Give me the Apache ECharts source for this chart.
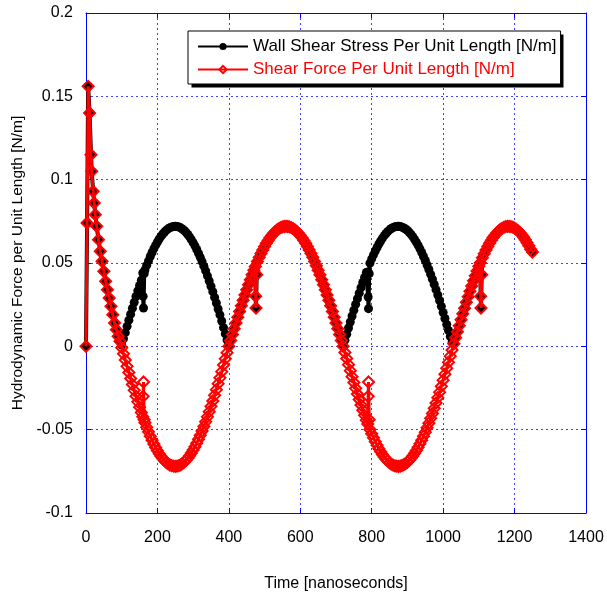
<!DOCTYPE html>
<html>
<head>
<meta charset="utf-8">
<script src="https://cdn.jsdelivr.net/npm/echarts@6/dist/echarts.min.js"></script>
<style>
html,body{margin:0;padding:0;background:#ffffff;}
#chart{width:607px;height:598px;}
</style>
</head>
<body>
<div id="chart"></div>
<script>
// ---- Data (time in ns, value in N/m) ----
const seriesNames = ['Wall Shear Stress Per Unit Length [N/m]', 'Shear Force Per Unit Length [N/m]'];
const xTicks = [0, 200, 400, 600, 800, 1000, 1200, 1400];
const yTicks = [-0.1, -0.05, 0, 0.05, 0.1, 0.15, 0.2];

const shearForce = [
  [0,0],[3,0.074],[6,0.156],[10,0.140],[14,0.115],[16,0.105],[20,0.093],[23,0.086],[26,0.079],
  [30,0.072],[35,0.064],[40,0.057],[45,0.051],[50,0.045],[55,0.039],[60,0.034],[65,0.029],[70,0.024],[75,0.019],[80,0.014],[85,0.010],[90,0.006],[95,0.003],
  [100,-0.0008],[105,-0.0045],[110,-0.0082],[115,-0.0120],[120,-0.0157],[125,-0.0193],[130,-0.0229],[135,-0.0264],[140,-0.0299],[145,-0.0333],[150,-0.0365],[155,-0.0397],
  [159,-0.0422],[160,-0.0300],[161,-0.0214],[163,-0.0440],
  [165,-0.0458],[170,-0.0486],[175,-0.0513],[180,-0.0539],[185,-0.0563],[190,-0.0586],[195,-0.0607],[200,-0.0626],[205,-0.0644],[210,-0.0660],[215,-0.0674],[220,-0.0686],[225,-0.0697],[230,-0.0705],[235,-0.0712],[240,-0.0716],[245,-0.0719],[250,-0.0720],[255,-0.0719],[260,-0.0716],[265,-0.0711],[270,-0.0704],[275,-0.0695],[280,-0.0684],[285,-0.0671],[290,-0.0657],[295,-0.0640],[300,-0.0622],[305,-0.0603],[310,-0.0581],[315,-0.0558],[320,-0.0534],[325,-0.0508],[330,-0.0481],[335,-0.0453],[340,-0.0423],[345,-0.0392],[350,-0.0360],[355,-0.0328],[360,-0.0294],[365,-0.0260],[370,-0.0224],[375,-0.0189],[380,-0.0152],[385,-0.0112],[390,-0.0075],[395,-0.0038],
  [400,0.0000],[405,0.0035],[410,0.0071],[415,0.0106],[420,0.0140],[425,0.0175],[430,0.0209],[435,0.0243],[440,0.0276],[445,0.0308],[450,0.0339],[455,0.0370],[460,0.0400],[465,0.0429],[470,0.0457],
  [474,0.0479],[475,0.0300],[476,0.0230],[478,0.0430],
  [480,0.0509],[485,0.0534],[490,0.0557],[495,0.0578],[500,0.0599],[505,0.0618],[510,0.0635],[515,0.0651],[520,0.0665],[525,0.0678],[530,0.0689],[535,0.0698],[540,0.0706],[545,0.0712],[550,0.0717],[555,0.0719],[560,0.0720],[565,0.0719],[570,0.0717],[575,0.0712],[580,0.0706],[585,0.0698],[590,0.0689],[595,0.0678],[600,0.0665],[605,0.0651],[610,0.0635],[615,0.0618],[620,0.0599],[625,0.0578],[630,0.0557],[635,0.0534],[640,0.0509],[645,0.0484],[650,0.0457],[655,0.0429],[660,0.0400],[665,0.0370],[670,0.0339],[675,0.0308],[680,0.0276],[685,0.0243],[690,0.0209],[695,0.0175],[700,0.0140],[705,0.0106],[710,0.0071],[715,0.0035],[720,0.0000],
  [725,-0.0037],[730,-0.0073],[735,-0.0110],[740,-0.0146],[745,-0.0182],[750,-0.0217],[755,-0.0252],[760,-0.0286],[765,-0.0319],[770,-0.0352],[775,-0.0383],[780,-0.0414],[785,-0.0443],
  [789,-0.0466],[790,-0.0300],[791,-0.0214],[793,-0.0440],
  [795,-0.0499],[800,-0.0525],[805,-0.0549],[810,-0.0572],[815,-0.0593],[820,-0.0614],[825,-0.0632],[830,-0.0649],[835,-0.0664],[840,-0.0677],[845,-0.0689],[850,-0.0699],[855,-0.0707],[860,-0.0713],[865,-0.0717],[870,-0.0719],[875,-0.0720],[880,-0.0719],[885,-0.0715],[890,-0.0710],[895,-0.0704],[900,-0.0695],[905,-0.0684],[910,-0.0672],[915,-0.0658],[920,-0.0642],[925,-0.0625],[930,-0.0606],[935,-0.0585],[940,-0.0563],[945,-0.0539],[950,-0.0515],[955,-0.0488],[960,-0.0461],[965,-0.0432],[970,-0.0403],[975,-0.0372],[980,-0.0340],[985,-0.0308],[990,-0.0275],[995,-0.0240],[1000,-0.0203],[1005,-0.0167],[1010,-0.0131],[1015,-0.0095],[1020,-0.0059],[1025,-0.0022],
  [1030,0.0015],[1035,0.0051],[1040,0.0087],[1045,0.0123],[1050,0.0159],[1055,0.0195],[1060,0.0229],[1065,0.0264],[1070,0.0297],[1075,0.0330],[1080,0.0362],[1085,0.0393],[1090,0.0423],[1095,0.0452],[1100,0.0480],
  [1104,0.0501],[1105,0.0300],[1106,0.0230],[1108,0.0430],
  [1110,0.0532],[1115,0.0556],[1120,0.0578],[1125,0.0599],[1130,0.0619],[1135,0.0636],[1140,0.0653],[1145,0.0667],[1150,0.0680],[1155,0.0691],[1160,0.0701],[1165,0.0708],[1170,0.0714],[1175,0.0718],[1180,0.0720],[1185,0.0720],[1190,0.0718],[1195,0.0715],[1200,0.0709],[1205,0.0702],[1210,0.0693],[1215,0.0682],[1220,0.0670],[1225,0.0656],[1230,0.0640],[1235,0.0622],[1240,0.0603],[1245,0.0582],[1250,0.0566]
];

const wallShearStress = [
  [0,0],[3,0.074],[6,0.156],[10,0.140],[14,0.115],[16,0.105],[20,0.093],[23,0.086],[26,0.079],
  [30,0.072],[35,0.064],[40,0.057],[45,0.051],[50,0.045],[55,0.039],[60,0.034],[65,0.029],[70,0.024],[75,0.019],[80,0.014],[85,0.010],[90,0.006],[95,0.003],
  [100,0.0008],[105,0.0045],[110,0.0082],[115,0.0120],[120,0.0157],[125,0.0193],[130,0.0229],[135,0.0264],[140,0.0299],[145,0.0333],[150,0.0365],[155,0.0397],
  [159,0.0440],[160,0.0300],[161,0.0230],[163,0.0436],
  [165,0.0458],[170,0.0486],[175,0.0513],[180,0.0539],[185,0.0563],[190,0.0586],[195,0.0607],[200,0.0626],[205,0.0644],[210,0.0660],[215,0.0674],[220,0.0686],[225,0.0697],[230,0.0705],[235,0.0712],[240,0.0716],[245,0.0719],[250,0.0720],[255,0.0719],[260,0.0716],[265,0.0711],[270,0.0704],[275,0.0695],[280,0.0684],[285,0.0671],[290,0.0657],[295,0.0640],[300,0.0622],[305,0.0603],[310,0.0581],[315,0.0558],[320,0.0534],[325,0.0508],[330,0.0481],[335,0.0453],[340,0.0423],[345,0.0392],[350,0.0360],[355,0.0328],[360,0.0294],[365,0.0260],[370,0.0224],[375,0.0189],[380,0.0152],[385,0.0112],[390,0.0075],[395,0.0038],
  [400,0.0000],[405,0.0035],[410,0.0071],[415,0.0106],[420,0.0140],[425,0.0175],[430,0.0209],[435,0.0243],[440,0.0276],[445,0.0308],[450,0.0339],[455,0.0370],[460,0.0400],[465,0.0429],[470,0.0457],
  [474,0.0479],[475,0.0300],[476,0.0230],[478,0.0430],
  [480,0.0509],[485,0.0534],[490,0.0557],[495,0.0578],[500,0.0599],[505,0.0618],[510,0.0635],[515,0.0651],[520,0.0665],[525,0.0678],[530,0.0689],[535,0.0698],[540,0.0706],[545,0.0712],[550,0.0717],[555,0.0719],[560,0.0720],[565,0.0719],[570,0.0717],[575,0.0712],[580,0.0706],[585,0.0698],[590,0.0689],[595,0.0678],[600,0.0665],[605,0.0651],[610,0.0635],[615,0.0618],[620,0.0599],[625,0.0578],[630,0.0557],[635,0.0534],[640,0.0509],[645,0.0484],[650,0.0457],[655,0.0429],[660,0.0400],[665,0.0370],[670,0.0339],[675,0.0308],[680,0.0276],[685,0.0243],[690,0.0209],[695,0.0175],[700,0.0140],[705,0.0106],[710,0.0071],[715,0.0035],[720,0.0000],
  [725,0.0037],[730,0.0073],[735,0.0110],[740,0.0146],[745,0.0182],[750,0.0217],[755,0.0252],[760,0.0286],[765,0.0319],[770,0.0352],[775,0.0383],[780,0.0414],[785,0.0443],
  [789,0.0446],[790,0.0296],[791,0.0226],[793,0.0436],
  [795,0.0499],[800,0.0525],[805,0.0549],[810,0.0572],[815,0.0593],[820,0.0614],[825,0.0632],[830,0.0649],[835,0.0664],[840,0.0677],[845,0.0689],[850,0.0699],[855,0.0707],[860,0.0713],[865,0.0717],[870,0.0719],[875,0.0720],[880,0.0719],[885,0.0715],[890,0.0710],[895,0.0704],[900,0.0695],[905,0.0684],[910,0.0672],[915,0.0658],[920,0.0642],[925,0.0625],[930,0.0606],[935,0.0585],[940,0.0563],[945,0.0539],[950,0.0515],[955,0.0488],[960,0.0461],[965,0.0432],[970,0.0403],[975,0.0372],[980,0.0340],[985,0.0308],[990,0.0275],[995,0.0240],[1000,0.0203],[1005,0.0167],[1010,0.0131],[1015,0.0095],[1020,0.0059],[1025,0.0022],
  [1030,0.0015],[1035,0.0051],[1040,0.0087],[1045,0.0123],[1050,0.0159],[1055,0.0195],[1060,0.0229],[1065,0.0264],[1070,0.0297],[1075,0.0330],[1080,0.0362],[1085,0.0393],[1090,0.0423],[1095,0.0452],[1100,0.0480],
  [1104,0.0501],[1105,0.0300],[1106,0.0230],[1108,0.0430],
  [1110,0.0532],[1115,0.0556],[1120,0.0578],[1125,0.0599],[1130,0.0619],[1135,0.0636],[1140,0.0653],[1145,0.0667],[1150,0.0680],[1155,0.0691],[1160,0.0701],[1165,0.0708],[1170,0.0714],[1175,0.0718],[1180,0.0720],[1185,0.0720],[1190,0.0718],[1195,0.0715],[1200,0.0709],[1205,0.0702],[1210,0.0693],[1215,0.0682],[1220,0.0670],[1225,0.0656],[1230,0.0640],[1235,0.0622],[1240,0.0603],[1245,0.0582],[1250,0.0566]
];

// ---- Chart ----
const FONT = '"Liberation Sans", Arial, sans-serif';
const BLUE = '#0000ff';
const chart = echarts.init(document.getElementById('chart'), null, {renderer: 'canvas'});

function baseX(pos, showLabels) {
  return {
    type: 'value', position: pos, min: xTicks[0], max: xTicks[xTicks.length - 1],
    interval: xTicks[1] - xTicks[0],
    axisLine: {show: true, onZero: false, lineStyle: {color: BLUE, width: 1}},
    axisTick: {show: true, inside: true, length: 5, lineStyle: {color: BLUE}},
    axisLabel: {show: showLabels, color: '#000', fontSize: 16, fontFamily: FONT, margin: 17,
      formatter: function (v) { return String(v); }},
    splitLine: {show: showLabels, lineStyle: {color: BLUE, type: [2, 3], width: 1, opacity: 0.75}}
  };
}
function baseY(pos, showLabels) {
  return {
    type: 'value', position: pos, min: yTicks[0], max: yTicks[yTicks.length - 1],
    interval: 0.05,
    axisLine: {show: true, onZero: false, lineStyle: {color: BLUE, width: 1}},
    axisTick: {show: true, inside: true, length: 5, lineStyle: {color: BLUE}},
    axisLabel: {show: showLabels, color: '#000', fontSize: 16, fontFamily: FONT, margin: 13},
    splitLine: {show: showLabels, lineStyle: {color: BLUE, type: [2, 3], width: 1, opacity: 0.75}}
  };
}

const x0 = Object.assign(baseX('bottom', true), {
  name: 'Time [nanoseconds]', nameLocation: 'middle', nameGap: 63,
  nameTextStyle: {color: '#000', fontSize: 16, fontFamily: FONT}
});
const x1 = baseX('top', false);
const y0 = Object.assign(baseY('left', true), {
  name: 'Hydrodynamic Force per Unit Length [N/m]', nameLocation: 'middle', nameGap: 55,
  nameTextStyle: {color: '#000', fontSize: 15.5, fontFamily: FONT}
});
const y1 = baseY('right', false);

chart.setOption({
  animation: false,
  backgroundColor: '#ffffff',
  textStyle: {fontFamily: FONT},
  grid: {left: 86, right: 21, top: 13, bottom: 85, containLabel: false},
  graphic: [{
    type: 'rect', z: 3, silent: true,
    shape: {x: 191.5, y: 34.5, width: 372, height: 53},
    style: {fill: '#000'}
  }],
  legend: {
    orient: 'vertical', left: 188, top: 31, z: 5,
    itemWidth: 50, itemHeight: 9, itemGap: 6,
    padding: [7, 4, 6, 9],
    backgroundColor: '#ffffff', borderColor: '#000', borderWidth: 1,
    textStyle: {fontSize: 17, fontFamily: FONT},
    data: [
      {name: seriesNames[0], textStyle: {color: '#000000'}},
      {name: seriesNames[1], textStyle: {color: '#ff0000'}}
    ]
  },
  xAxis: [x0, x1],
  yAxis: [y0, y1],
  series: [
    {
      name: seriesNames[0], type: 'line', xAxisIndex: 0, yAxisIndex: 0,
      data: wallShearStress, z: 2,
      showSymbol: true, showAllSymbol: true,
      symbol: 'circle', symbolSize: 9,
      lineStyle: {color: '#000', width: 4},
      itemStyle: {color: '#000', borderColor: '#000', borderWidth: 0}
    },
    {
      name: seriesNames[1], type: 'line', xAxisIndex: 0, yAxisIndex: 0,
      data: shearForce, z: 2.5,
      showSymbol: true, showAllSymbol: true,
      symbol: 'diamond', symbolSize: 11,
      lineStyle: {color: '#ff0000', width: 3},
      itemStyle: {color: 'rgba(255,255,255,0)', borderColor: '#ff0000', borderWidth: 2}
    }
  ]
});
</script>
</body>
</html>
